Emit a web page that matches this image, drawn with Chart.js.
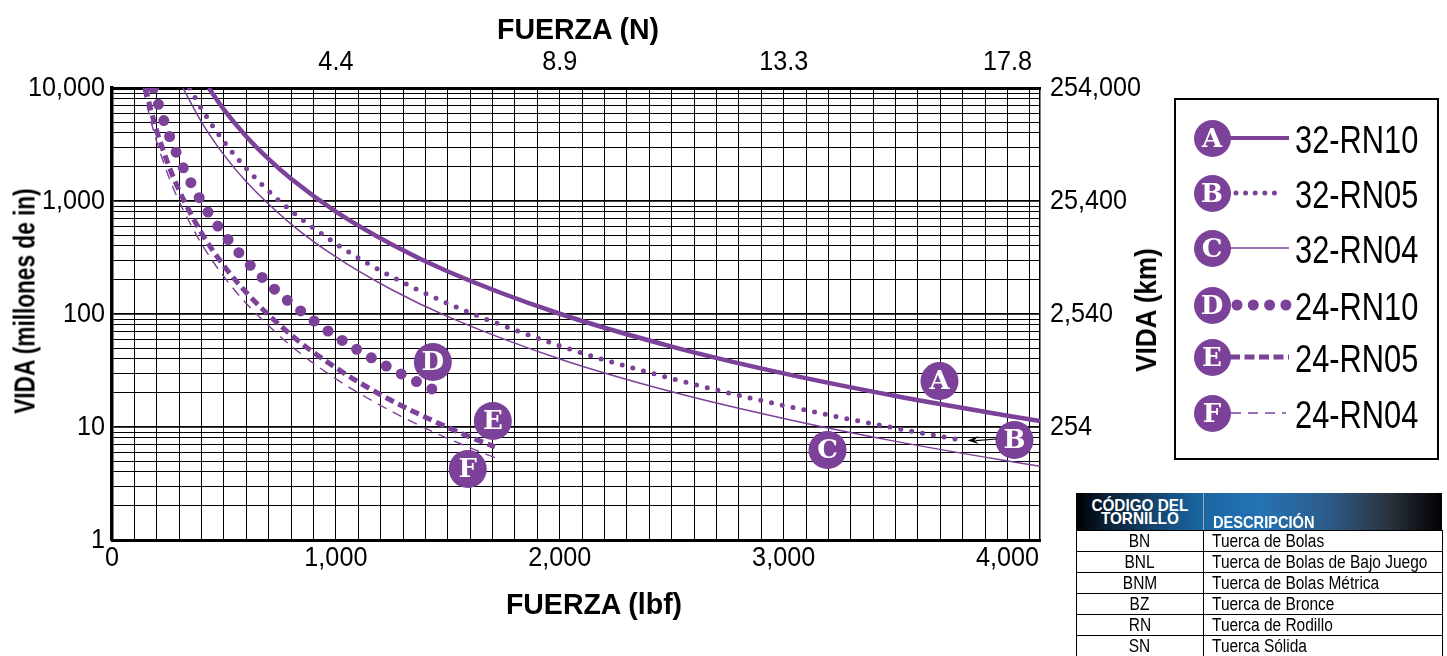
<!DOCTYPE html>
<html>
<head>
<meta charset="utf-8">
<title>Vida vs Fuerza</title>
<script src="https://cdn.jsdelivr.net/npm/chart.js@4.4.1/dist/chart.umd.min.js"></script>
<style>
  html, body { margin: 0; padding: 0; background: #fff; }
  #wrap { position: relative; width: 1447px; height: 656px; overflow: hidden; background: #fff;
          font-family: 'Liberation Sans', Arial, sans-serif; color: #000; }
  #chart { position: absolute; left: 0; top: 0; }
  .title { position: absolute; font-weight: bold; white-space: nowrap; line-height: 1; }
  #legend { position: absolute; left: 1174px; top: 98px; width: 265px; height: 362px; box-sizing: border-box; border: 2px solid #000; }
  .tag { position: absolute; width: 37px; height: 37px; border-radius: 50%; background: #7c4199; color: #fff;
         font-family: 'DejaVu Serif', 'Liberation Serif', serif; font-weight: bold; font-size: 26px;
         display: flex; align-items: center; justify-content: center; line-height: 1; }
  .lg-text { position: absolute; font-size: 39px; line-height: 1; white-space: nowrap;
             transform: translateY(-50%) scaleX(0.79); transform-origin: 0 50%; }
  #codes-head { position: absolute; left: 1076px; top: 493px; width: 366px; height: 37px; box-sizing: border-box;
                background: linear-gradient(90deg, #000 0%, #0b2238 9%, #1a64a0 33%, #2473b4 50%, #2d5d8c 68%, #2b3440 85%, #000 100%);
                color: #fff; font-weight: bold; }
  #codes-head .sep { position: absolute; left: 127px; top: 0; width: 1px; height: 37px; background: #9aa9b8; }
  #codes-head .h1 { position: absolute; left: 0; width: 127px; top: 7px; text-align: center; font-size: 17px; line-height: 12.5px; }
  #codes-head .h2 { position: absolute; left: 137px; top: 23px; font-size: 17px; line-height: 14px; }
  .hq { display: inline-block; transform: scaleX(0.9); transform-origin: 50% 50%; }
  .hql { display: inline-block; transform: scaleX(0.86); transform-origin: 0 50%; }
  #codes { position: absolute; left: 1076px; top: 530px; width: 366px; border-collapse: collapse; table-layout: fixed; }
  #codes tr { height: 21px; }
  #codes td { padding: 0; border: 1px solid #000; font-size: 18px; line-height: 19px; white-space: nowrap; overflow: hidden; }
  #codes td.c1 { text-align: center; }
  #codes td.c2 { padding-left: 8px; }
  .sq { display: inline-block; transform: scaleX(0.86); transform-origin: 0 50%; }
  .sqc { display: inline-block; transform: scaleX(0.86); transform-origin: 50% 50%; }
</style>
</head>
<body>
<div id="wrap">
  <canvas id="chart" width="1447" height="656"></canvas>

  <div class="title" style="left:578px; top:29px; font-size:30px; transform: translate(-50%,-50%) scaleX(0.95);">FUERZA (N)</div>
  <div class="title" style="left:594px; top:604px; font-size:30px; transform: translate(-50%,-50%) scaleX(0.95);">FUERZA (lbf)</div>
  <div class="title" style="left:25px; top:301px; font-size:29px; transform: translate(-50%,-50%) rotate(-90deg) scaleX(0.78);">VIDA (millones de in)</div>
  <div class="title" style="left:1146px; top:310px; font-size:30px; transform: translate(-50%,-50%) rotate(-90deg) scaleX(0.87);">VIDA (km)</div>

  <div id="legend"></div>

  <div id="codes-head">
    <div class="h1"><span class="hq">CÓDIGO DEL<br>TORNILLO</span></div>
    <div class="sep"></div>
    <div class="h2"><span class="hql">DESCRIPCIÓN</span></div>
  </div>
  <table id="codes">
    <colgroup><col style="width:127px"><col style="width:239px"></colgroup>
    <tbody id="codes-body"></tbody>
  </table>
</div>

<script>
// ---- Series: life (millions of inches) against axial load (lbf) ----
const forceA = [432, 500, 600, 700, 800, 1000, 1250, 1500, 2000, 2500, 3000, 3500, 4000, 4145];
const lifeA  = [10000, 6430, 3720, 2345, 1570, 804, 412, 238, 100.5, 51.5, 29.8, 18.8, 12.6, 11.3];

const forceB = [347, 400, 500, 600, 750, 1000, 1250, 1500, 2000, 2500, 3000, 3500, 3808];
const lifeB  = [10000, 6540, 3350, 1940, 992, 419, 214, 124, 52.3, 26.8, 15.5, 9.76, 7.58];

const forceC = [317, 400, 500, 600, 800, 1000, 1250, 1500, 2000, 2500, 3000, 3500, 4000, 4145];
const lifeC  = [10000, 5000, 2560, 1480, 625, 320, 164, 94.8, 40, 20.5, 11.9, 7.46, 5.0, 4.49];

const forceD = [185, 200, 250, 300, 400, 500, 600, 700, 800, 1000, 1200, 1400, 1490];
const lifeD  = [10000, 7940, 4065, 2350, 985, 508, 294, 185, 124, 63.5, 36.8, 23.1, 19.2];

const forceE = [150, 175, 200, 250, 300, 400, 500, 600, 800, 1000, 1200, 1400, 1600, 1710];
const lifeE  = [10000, 6230, 4170, 2140, 1240, 522, 267, 155, 65.2, 33.4, 19.3, 12.2, 8.15, 6.68];

const forceF = [139, 150, 175, 200, 250, 300, 400, 500, 600, 800, 1000, 1200, 1400, 1600, 1714];
const lifeF  = [10000, 7920, 4990, 3340, 1710, 990, 418, 214, 124, 52.2, 26.7, 15.5, 9.74, 6.53, 5.31];

const seriesNames = ['32-RN10', '32-RN05', '32-RN04', '24-RN10', '24-RN05', '24-RN04'];

// Letter tags placed beside each curve
const tagLetters = ['A', 'B', 'C', 'D', 'E', 'F'];
const tagForce   = [3696, 4031, 3196, 1433, 1701, 1589];
const tagLife    = [25.5, 7.67, 6.26, 37.6, 11.3, 4.25];

// Axis ticks
const xTickValues    = [0, 1000, 2000, 3000, 4000];
const xTickLabels    = ['0', '1,000', '2,000', '3,000', '4,000'];
const topTickLabels  = ['', '4.4', '8.9', '13.3', '17.8'];
const yTickValues    = [1, 10, 100, 1000, 10000];
const yTickLabels    = ['1', '10', '100', '1,000', '10,000'];
const kmTickLabels   = ['', '254', '2,540', '25,400', '254,000'];

// Nut code table
const nutCodes = ['BN', 'BNL', 'BNM', 'BZ', 'RN', 'SN'];
const nutNames = ['Tuerca de Bolas', 'Tuerca de Bolas de Bajo Juego', 'Tuerca de Bolas Métrica',
                  'Tuerca de Bronce', 'Tuerca de Rodillo', 'Tuerca Sólida'];

const PURPLE = '#7c4199';
const FONT = "'Liberation Sans', Arial, sans-serif";
const X_MAX = 4145;
const TICK_SQUEEZE = 0.9;   // narrow the tick lettering horizontally

const pts = (f, l) => f.map((v, i) => ({ x: v, y: l[i] }));

// line styles per series: width, dash, cap
const styles = [
  { w: 4.5, dash: [],      cap: 'butt'  },
  { w: 5,   dash: [0, 11], cap: 'round' },
  { w: 1.5, dash: [],      cap: 'butt'  },
  { w: 11,  dash: [0, 17], cap: 'round' },
  { w: 5,   dash: [9, 5],  cap: 'butt'  },
  { w: 1.4, dash: [10, 7], cap: 'butt'  }
];
const curves = [pts(forceA, lifeA), pts(forceB, lifeB), pts(forceC, lifeC),
                pts(forceD, lifeD), pts(forceE, lifeE), pts(forceF, lifeF)];

const curveSets = curves.map((data, i) => ({
  label: seriesNames[i],
  data,
  borderColor: PURPLE,
  backgroundColor: PURPLE,
  borderWidth: styles[i].w,
  borderDash: styles[i].dash,
  borderCapStyle: styles[i].cap,
  borderJoinStyle: 'round',
  pointRadius: 0,
  pointHoverRadius: 0,
  cubicInterpolationMode: 'monotone',
  fill: false,
  order: 1
}));

const tagSet = {
  label: 'tags',
  data: pts(tagForce, tagLife),
  showLine: false,
  pointRadius: 19,
  pointHoverRadius: 19,
  pointBackgroundColor: PURPLE,
  pointBorderWidth: 0,
  order: 0
};

const logGridValues = [];
for (let d = 1; d <= 1000; d *= 10) for (let m = 1; m < 10; m++) logGridValues.push(m * d);
logGridValues.push(10000);
const isDecade = v => yTickValues.includes(v);

const linGridValues = [];
for (let v = 0; v <= 4100; v += 100) linGridValues.push(v);

// Horizontally condensed text for the scale labels
const condensePlugin = {
  id: 'condensedText',
  beforeInit(chart) {
    const ctx = chart.ctx;
    const raw = ctx.fillText.bind(ctx);
    ctx.rawFillText = raw;
    ctx.fillText = function (text, x, y) {
      this.save();
      this.translate(x, y);
      this.scale(TICK_SQUEEZE, 1);
      raw(text, 0, 0);
      this.restore();
    };
  }
};

// Letters inside the tags and the pointer from tag B to the end of its curve
const tagPlugin = {
  id: 'tagLetters',
  afterDatasetsDraw(chart) {
    const ctx = chart.ctx;
    const xs = chart.scales.x, ys = chart.scales.y;
    const tagMeta = chart.getDatasetMeta(0);

    const bx = xs.getPixelForValue(tagForce[1]);
    const by = ys.getPixelForValue(tagLife[1]);
    const ex = xs.getPixelForValue(forceB[forceB.length - 1]) + 3;
    const ey = ys.getPixelForValue(lifeB[lifeB.length - 1]);
    ctx.save();
    ctx.strokeStyle = '#000';
    ctx.fillStyle = '#000';
    ctx.lineWidth = 1.2;
    ctx.beginPath();
    ctx.moveTo(bx - 18, by - 1);
    ctx.lineTo(ex + 8, ey);
    ctx.stroke();
    const ang = Math.atan2(ey - (by - 1), ex - (bx - 18));
    ctx.beginPath();
    ctx.moveTo(ex, ey);
    ctx.lineTo(ex - 11 * Math.cos(ang) + 4 * Math.sin(ang), ey - 11 * Math.sin(ang) - 4 * Math.cos(ang));
    ctx.lineTo(ex - 7 * Math.cos(ang), ey - 7 * Math.sin(ang));
    ctx.lineTo(ex - 11 * Math.cos(ang) - 4 * Math.sin(ang), ey - 11 * Math.sin(ang) + 4 * Math.cos(ang));
    ctx.closePath();
    ctx.fill();

    ctx.fillStyle = '#fff';
    ctx.font = "bold 26px 'DejaVu Serif', 'Liberation Serif', serif";
    ctx.textAlign = 'center';
    ctx.textBaseline = 'middle';
    tagMeta.data.forEach((p, i) => ctx.rawFillText(tagLetters[i], p.x, p.y + 1));
    ctx.restore();
  }
};

new Chart(document.getElementById('chart'), {
  type: 'line',
  data: { datasets: [tagSet, ...curveSets] },
  options: {
    responsive: false,
    devicePixelRatio: 1,
    animation: false,
    events: [],
    layout: { padding: 0 },
    plugins: { legend: { display: false }, tooltip: { enabled: false } },
    scales: {
      x: {
        type: 'linear', position: 'bottom', min: 0, max: X_MAX,
        afterBuildTicks: s => { s.ticks = linGridValues.map(v => ({ value: v })); },
        afterFit: s => { s.height = 116; },
        grid: { color: '#000', lineWidth: 1, drawTicks: false, tickLength: 0 },
        border: { display: true, color: '#000', width: 3 },
        ticks: {
          autoSkip: false, maxRotation: 0, padding: 1, color: '#000',
          font: { family: FONT, size: 28 },
          callback: v => { const k = xTickValues.indexOf(v); return k >= 0 ? xTickLabels[k] : ''; }
        }
      },
      x2: {
        type: 'linear', position: 'top', min: 0, max: X_MAX,
        afterBuildTicks: s => { s.ticks = xTickValues.map(v => ({ value: v })); },
        afterFit: s => { s.height = 88; },
        grid: { display: false, drawTicks: false, tickLength: 0 },
        border: { display: true, color: '#000', width: 3 },
        ticks: {
          autoSkip: false, maxRotation: 0, padding: 9, color: '#000',
          font: { family: FONT, size: 28 },
          callback: v => { const k = xTickValues.indexOf(v); return k >= 0 ? topTickLabels[k] : ''; }
        }
      },
      y: {
        type: 'logarithmic', position: 'left', min: 1, max: 10000,
        afterBuildTicks: s => { s.ticks = logGridValues.map(v => ({ value: v })); },
        afterFit: s => { s.width = 112; },
        grid: {
          color: '#000', drawTicks: false, tickLength: 0,
          lineWidth: c => (c.tick && isDecade(c.tick.value)) ? 1.8 : 1
        },
        border: { display: true, color: '#000', width: 3.5 },
        ticks: {
          autoSkip: false, padding: 7, color: '#000',
          font: { family: FONT, size: 28 },
          callback: v => { const k = yTickValues.indexOf(v); return k >= 0 ? yTickLabels[k] : ''; }
        }
      },
      y2: {
        type: 'logarithmic', position: 'right', min: 1, max: 10000,
        afterBuildTicks: s => { s.ticks = yTickValues.map(v => ({ value: v })); },
        afterFit: s => { s.width = 407; },
        grid: { display: false, drawTicks: false, tickLength: 0 },
        border: { display: true, color: '#000', width: 1.5 },
        ticks: {
          autoSkip: false, padding: 10, color: '#000',
          font: { family: FONT, size: 28 },
          callback: v => { const k = yTickValues.indexOf(v); return k >= 0 ? kmTickLabels[k] : ''; }
        }
      }
    }
  },
  plugins: [condensePlugin, tagPlugin]
});

// ---- Legend panel ----
(function buildLegend() {
  const wrap = document.getElementById('wrap');
  const rowsY = [138, 193, 248, 305, 357, 413];
  const NS = 'http://www.w3.org/2000/svg';
  const svg = document.createElementNS(NS, 'svg');
  svg.setAttribute('width', 1447);
  svg.setAttribute('height', 656);
  svg.style.position = 'absolute';
  svg.style.left = '0px';
  svg.style.top = '0px';
  wrap.appendChild(svg);

  const sample = [
    { x1: 1230, x2: 1289, w: 4,   dash: null,     cap: 'butt'  },
    { x1: 1236, x2: 1283, w: 5,   dash: '0 9.6',  cap: 'round' },
    { x1: 1230, x2: 1289, w: 1.6, dash: null,     cap: 'butt'  },
    { x1: 1237, x2: 1286, w: 11,  dash: '0 16.3', cap: 'round' },
    { x1: 1230, x2: 1289, w: 5,   dash: '10 4.5', cap: 'butt'  },
    { x1: 1231, x2: 1286, w: 1.5, dash: '10 7',   cap: 'butt'  }
  ];

  seriesNames.forEach((name, i) => {
    const cy = rowsY[i];
    const s = sample[i];
    const ln = document.createElementNS(NS, 'line');
    ln.setAttribute('x1', s.x1); ln.setAttribute('x2', s.x2);
    ln.setAttribute('y1', cy); ln.setAttribute('y2', cy);
    ln.setAttribute('stroke', PURPLE);
    ln.setAttribute('stroke-width', s.w);
    ln.setAttribute('stroke-linecap', s.cap);
    if (s.dash) ln.setAttribute('stroke-dasharray', s.dash);
    svg.appendChild(ln);

    const tag = document.createElement('div');
    tag.className = 'tag';
    tag.style.left = (1212 - 18.5) + 'px';
    tag.style.top = (cy - 18.5) + 'px';
    tag.textContent = tagLetters[i];
    wrap.appendChild(tag);

    const txt = document.createElement('div');
    txt.className = 'lg-text';
    txt.style.left = '1295px';
    txt.style.top = (cy + 1) + 'px';
    txt.textContent = name;
    wrap.appendChild(txt);
  });
})();

// ---- Nut code table ----
(function buildTable() {
  const body = document.getElementById('codes-body');
  nutCodes.forEach((code, i) => {
    const tr = document.createElement('tr');
    const a = document.createElement('td'); a.className = 'c1';
    const sa = document.createElement('span'); sa.className = 'sqc'; sa.textContent = code; a.appendChild(sa);
    const b = document.createElement('td'); b.className = 'c2';
    const sb = document.createElement('span'); sb.className = 'sq'; sb.textContent = nutNames[i]; b.appendChild(sb);
    tr.appendChild(a); tr.appendChild(b);
    body.appendChild(tr);
  });
})();
</script>
</body>
</html>
